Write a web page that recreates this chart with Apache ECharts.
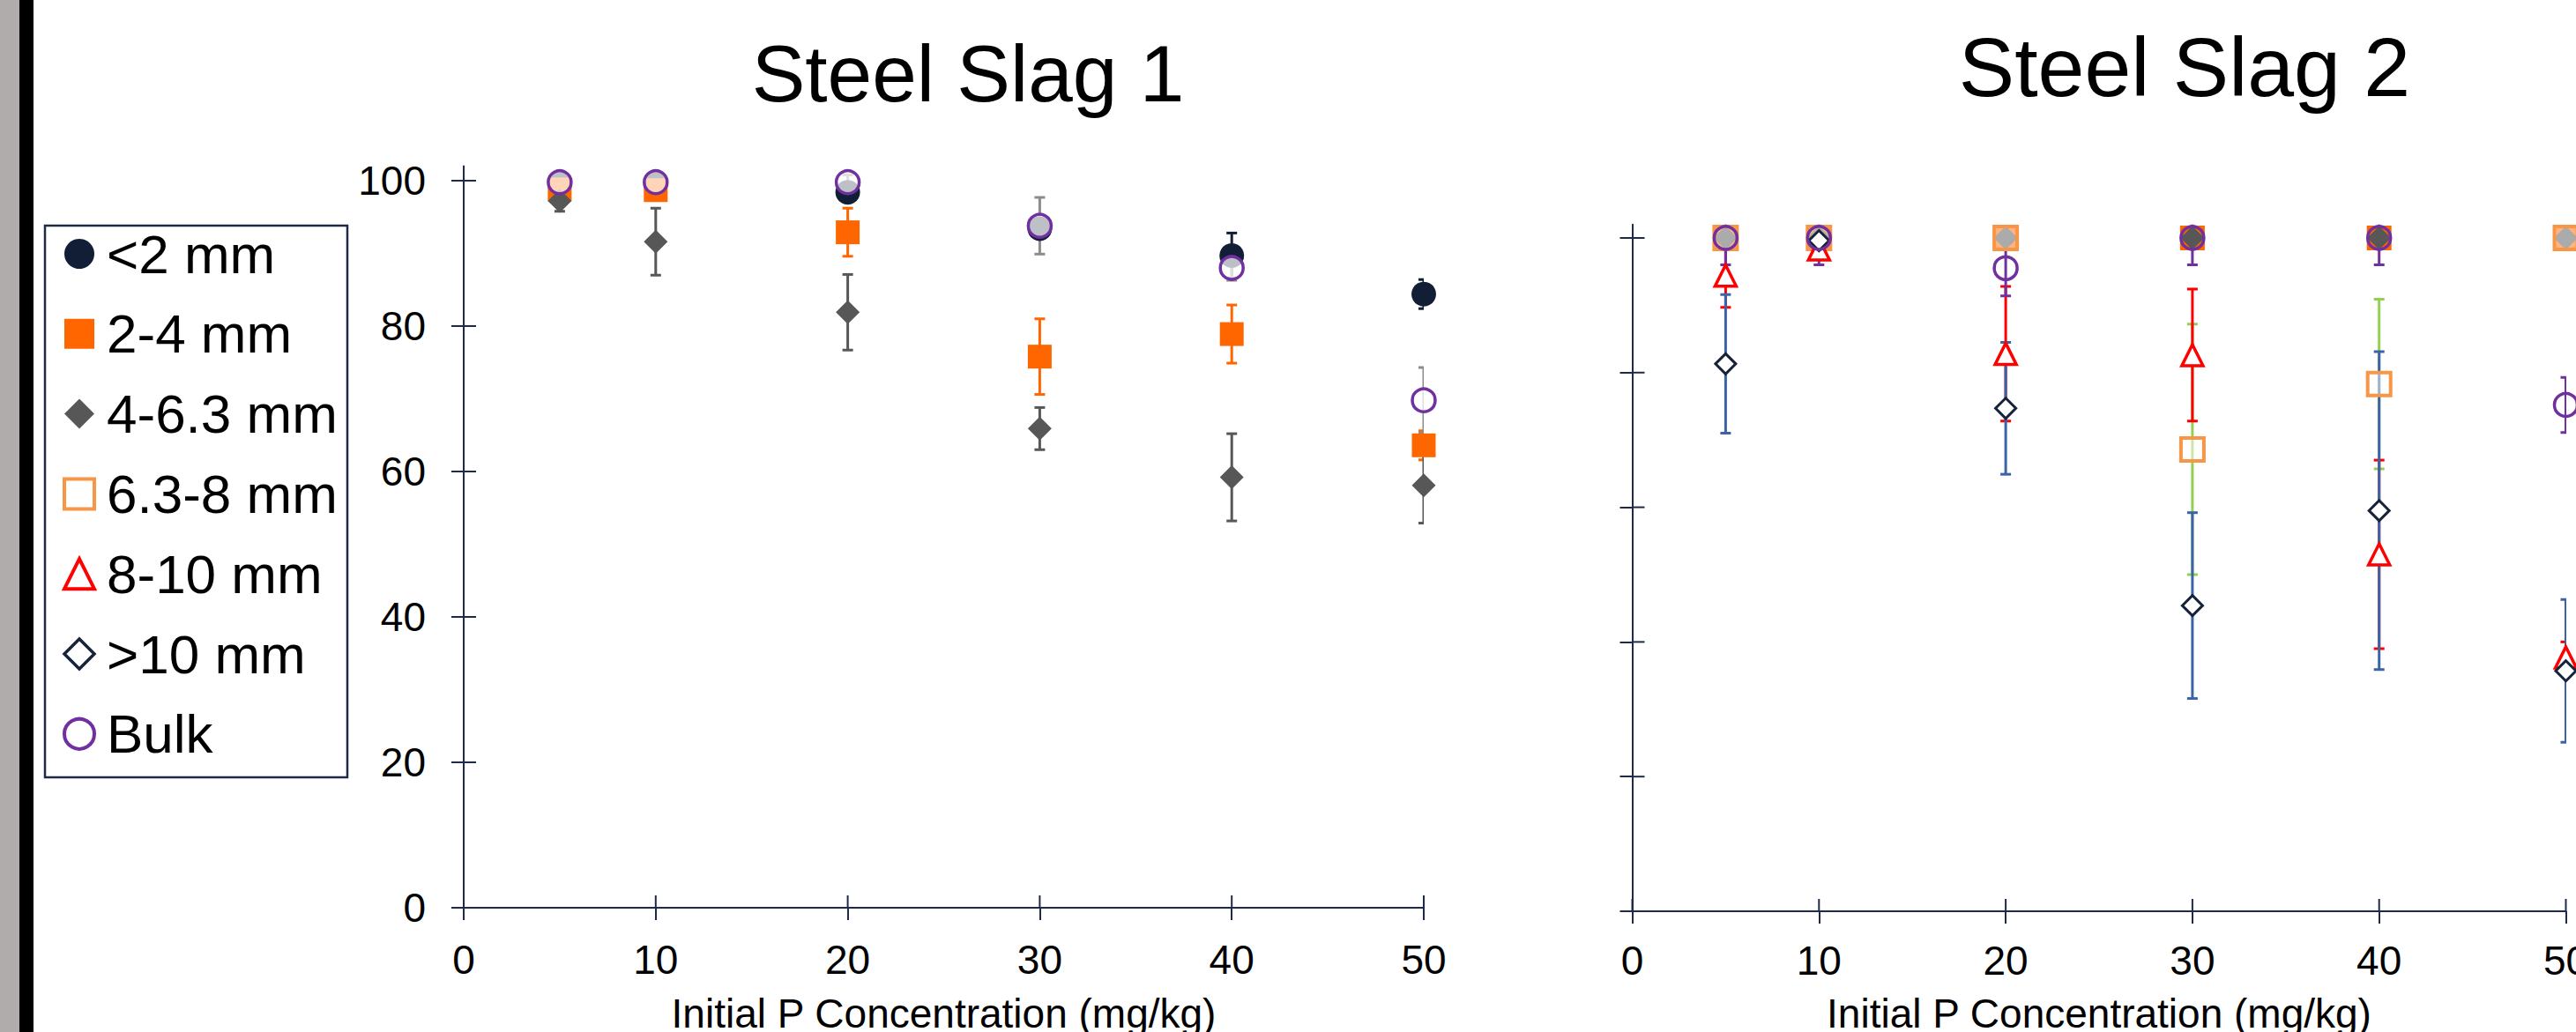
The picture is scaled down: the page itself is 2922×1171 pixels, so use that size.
<!DOCTYPE html>
<html><head><meta charset="utf-8">
<script src="https://cdn.jsdelivr.net/npm/echarts@6/dist/echarts.min.js"></script>
<style>html,body{margin:0;padding:0;background:#fff;overflow:hidden}#c{width:2922px;height:1171px}</style>
</head><body><div id="c"></div>
<script>
// ---------------- data ----------------
const xConc = [5, 10, 20, 30, 40, 50];
const sizeClasses = ['<2 mm', '2-4 mm', '4-6.3 mm', '6.3-8 mm', '8-10 mm', '>10 mm', 'Bulk'];
const yTickValues = [0, 20, 40, 60, 80, 100];
const xTickValues = [0, 10, 20, 30, 40, 50];
const chartTitles = ['Steel Slag 1', 'Steel Slag 2'];
const xAxisTitle = 'Initial P Concentration (mg/kg)';

// Steel Slag 1 : mean and error (+/-)
const slag1Lt2 = [99.7, 99.7, 98.4, 93.4, 89.7, 84.4];
const slag1Lt2Err = [1, 1, 1, 1, 3.1, 2];
const slag1From2To4 = [98.8, 98.7, 92.9, 75.8, 78.9, 63.6];
const slag1From2To4Err = [0.8, 0.5, 3.3, 5.2, 4, 2];
const slag1From4To63 = [97.2, 91.6, 81.9, 65.9, 59.2, 58.1];
const slag1From4To63Err = [1.4, 4.6, 5.2, 2.9, 6, 5.2];
const slag1Bulk = [99.8, 99.8, 99.8, 93.8, 88.0, 69.8];
const slag1BulkErr = [1, 1, 1, 3.9, 1.7, 4.5];

// Steel Slag 2 : mean and error (+/-)
const slag2Lt2 = [100, 100, 100, 100, 100, 100];
const slag2Lt2Err = [0, 0, 0, 0, 0, 0];
const slag2From2To4 = [100, 100, 100, 100, 100, 100];
const slag2From2To4Err = [0, 0, 0, 0, 0, 0];
const slag2From4To63 = [100, 100, 100, 100, 100, 100];
const slag2From4To63Err = [0, 0, 0, 0, 0, 0];
const slag2From63To8 = [100, 100, 100, 68.6, 78.3, 100];
const slag2From63To8Err = [0, 0, 0, 18.6, 12.6, 0];
const slag2From8To10 = [94.4, 98.3, 82.8, 82.6, 53.0, 37.7];
const slag2From8To10Err = [4.7, 1, 10, 9.8, 14, 2.3];
const slag2Gt10 = [81.3, 99.6, 74.7, 45.4, 59.5, 35.7];
const slag2Gt10Err = [10.3, 1, 9.8, 13.8, 23.6, 10.6];
const slag2Bulk = [100, 100, 95.5, 100, 100, 75.2];
const slag2BulkErr = [4, 4, 4.1, 4, 4, 4.1];

// ---------------- styles ----------------
const FONT = '"Liberation Sans", Arial, sans-serif';
const AXIS_COLOR = '#1f2b46';
const leftStyles = {
  '<2 mm':    {symbol: 'circle',  size: 28, fill: '#121e36', stroke: null, bw: 0, err: '#121e36'},
  '2-4 mm':   {symbol: 'rect',    size: 27, fill: '#ff6600', stroke: null, bw: 0, err: '#ff6600'},
  '4-6.3 mm': {symbol: 'diamond', size: 27, fill: '#575757', stroke: null, bw: 0, err: '#575757'},
  'Bulk':     {symbol: 'circle',  size: 26, fill: 'rgba(255,255,255,0.72)', stroke: '#7030a0', bw: 3.5, err: '#8c8c8c'}
};
const rightStyles = {
  '<2 mm':    {symbol: 'circle',  size: 28, fill: '#121e36', stroke: null, bw: 0, err: '#121e36'},
  '2-4 mm':   {symbol: 'rect',    size: 28, fill: '#ff6600', stroke: null, bw: 0, err: '#ff6600'},
  '4-6.3 mm': {symbol: 'diamond', size: 27, fill: '#575757', stroke: null, bw: 0, err: '#575757'},
  '6.3-8 mm': {symbol: 'rect',    size: 26, fill: 'rgba(255,255,255,0.5)', stroke: '#f79646', bw: 4, err: '#92d050'},
  '8-10 mm':  {symbol: 'triangle',size: 24, fill: '#ffffff', stroke: '#ff0000', bw: 3.5, err: '#ff0000'},
  '>10 mm':   {symbol: 'diamond', size: 23, fill: '#ffffff', stroke: '#17223b', bw: 3, err: '#3b64a8'},
  'Bulk':     {symbol: 'circle',  size: 26, fill: 'rgba(255,255,255,0)', stroke: '#7030a0', bw: 3.5, err: '#7030a0'}
};
const legendBorder = {'6.3-8 mm': 4, '8-10 mm': 4, '>10 mm': 3.5, 'Bulk': 4};

const leftSets = [
  ['<2 mm', slag1Lt2, slag1Lt2Err],
  ['2-4 mm', slag1From2To4, slag1From2To4Err],
  ['4-6.3 mm', slag1From4To63, slag1From4To63Err],
  ['Bulk', slag1Bulk, slag1BulkErr]
];
const rightSets = [
  ['<2 mm', slag2Lt2, slag2Lt2Err],
  ['2-4 mm', slag2From2To4, slag2From2To4Err],
  ['4-6.3 mm', slag2From4To63, slag2From4To63Err],
  ['6.3-8 mm', slag2From63To8, slag2From63To8Err],
  ['8-10 mm', slag2From8To10, slag2From8To10Err],
  ['>10 mm', slag2Gt10, slag2Gt10Err],
  ['Bulk', slag2Bulk, slag2BulkErr]
];

function errorSeries(name, vals, errs, color, gi, order) {
  return {
    type: 'custom', name: name + ' error', xAxisIndex: gi, yAxisIndex: gi,
    clip: true, z: 2, z2: order, silent: true,
    data: xConc.map((x, i) => [x, vals[i], errs[i]]),
    renderItem: function (params, api) {
      const x = api.value(0), y = api.value(1), e = api.value(2);
      if (!e) return null;
      const t = api.coord([x, y + e]), b = api.coord([x, y - e]);
      const cap = 6, lw = 3;
      const st = {stroke: color, lineWidth: lw};
      return {type: 'group', children: [
        {type: 'line', shape: {x1: t[0], y1: t[1], x2: b[0], y2: b[1]}, style: st},
        {type: 'line', shape: {x1: t[0] - cap, y1: t[1], x2: t[0] + cap, y2: t[1]}, style: st},
        {type: 'line', shape: {x1: b[0] - cap, y1: b[1], x2: b[0] + cap, y2: b[1]}, style: st}
      ]};
    }
  };
}
function markerSeries(name, vals, st, gi) {
  const itemStyle = {color: st.fill, opacity: 1};
  if (st.stroke) { itemStyle.borderColor = st.stroke; itemStyle.borderWidth = st.bw; }
  return {
    type: 'scatter', name: name, xAxisIndex: gi, yAxisIndex: gi, clip: false, z: 3,
    symbol: st.symbol, symbolSize: st.size, itemStyle: itemStyle,
    emphasis: {disabled: true},
    data: xConc.map((x, i) => [x, vals[i]])
  };
}
function innerTicks(gi) {
  return [{
    type: 'custom', xAxisIndex: gi, yAxisIndex: gi, clip: false, silent: true, z: 4,
    data: yTickValues.map(v => [0, v]),
    renderItem: function (p, api) {
      const c = api.coord([api.value(0), api.value(1)]);
      return {type: 'line', shape: {x1: c[0], y1: c[1], x2: c[0] + 14, y2: c[1]}, style: {stroke: AXIS_COLOR, lineWidth: 2}};
    }
  }, {
    type: 'custom', xAxisIndex: gi, yAxisIndex: gi, clip: false, silent: true, z: 4,
    data: xTickValues.map(v => [v, 0]),
    renderItem: function (p, api) {
      const c = api.coord([api.value(0), api.value(1)]);
      return {type: 'line', shape: {x1: c[0], y1: c[1], x2: c[0], y2: c[1] - 14}, style: {stroke: AXIS_COLOR, lineWidth: 2}};
    }
  }];
}

const series = [];
leftSets.forEach((s, k) => series.push(errorSeries(s[0], s[1], s[2], leftStyles[s[0]].err, 0, k)));
rightSets.forEach((s, k) => series.push(errorSeries(s[0], s[1], s[2], rightStyles[s[0]].err, 1, k)));
leftSets.forEach(s => series.push(markerSeries(s[0], s[1], leftStyles[s[0]], 0)));
rightSets.forEach(s => series.push(markerSeries(s[0], s[1], rightStyles[s[0]], 1)));
series.push(...innerTicks(0), ...innerTicks(1));

function xAxisCfg(gi, margin, nameGap) {
  return {
    gridIndex: gi, type: 'value', min: 0, max: 50, interval: 10,
    axisLine: {show: true, onZero: false, lineStyle: {color: AXIS_COLOR, width: 2}},
    axisTick: {show: true, length: 14, lineStyle: {color: AXIS_COLOR, width: 2}},
    axisLabel: {fontSize: 46, color: '#000', margin: margin, fontFamily: FONT, hideOverlap: false},
    splitLine: {show: false},
    name: xAxisTitle, nameLocation: 'middle', nameGap: nameGap,
    nameTextStyle: {fontSize: 46, color: '#000', fontFamily: FONT}
  };
}
function yAxisCfg(gi, showLabels) {
  return {
    gridIndex: gi, type: 'value', min: 0, max: 102,
    axisLine: {show: true, onZero: false, lineStyle: {color: AXIS_COLOR, width: 2}},
    axisTick: {show: true, length: 14, customValues: yTickValues, lineStyle: {color: AXIS_COLOR, width: 2}},
    axisLabel: {show: showLabels, customValues: yTickValues, fontSize: 46, color: '#000', margin: 43, fontFamily: FONT},
    splitLine: {show: false}
  };
}

const option = {
  animation: false,
  backgroundColor: '#ffffff',
  title: [
    {text: chartTitles[0], left: 1098, top: 38, textAlign: 'center', padding: 0,
     textStyle: {fontSize: 91, fontWeight: 'normal', color: '#000', fontFamily: FONT}},
    {text: chartTitles[1], left: 2478, top: 28, textAlign: 'center', padding: 0,
     textStyle: {fontSize: 95, fontWeight: 'normal', color: '#000', fontFamily: FONT}}
  ],
  legend: {
    data: sizeClasses.map(n => legendBorder[n] ? {name: n, itemStyle: {borderWidth: legendBorder[n]}} : n),
    orient: 'vertical', left: 71, top: 257, padding: 0,
    itemWidth: 34, itemHeight: 34, itemGap: 28.8, selectedMode: false,
    textStyle: {fontSize: 62, lineHeight: 60, color: '#000', fontFamily: FONT, padding: [0, 0, 0, 9]}
  },
  grid: [
    {left: 526, top: 188.5, width: 1089, height: 841.5, containLabel: false, outerBoundsMode: 'none'},
    {left: 1851.5, top: 254.7, width: 1059, height: 779.3, containLabel: false, outerBoundsMode: 'none'}
  ],
  xAxis: [xAxisCfg(0, 36, 97), xAxisCfg(1, 33, 93)],
  yAxis: [yAxisCfg(0, true), yAxisCfg(1, false)],
  graphic: [
    {type: 'rect', shape: {x: 0, y: 0, width: 22, height: 1171}, style: {fill: '#b0acab'}, silent: true},
    {type: 'rect', shape: {x: 22, y: 0, width: 16, height: 1171}, style: {fill: '#000'}, silent: true},
    {type: 'rect', shape: {x: 51, y: 256, width: 343, height: 626}, style: {fill: 'none', stroke: AXIS_COLOR, lineWidth: 2.5}, silent: true}
  ],
  series: series
};

const chart = echarts.init(document.getElementById('c'), null, {renderer: 'svg', width: 2922, height: 1171});
chart.setOption(option);
</script>
</body></html>
